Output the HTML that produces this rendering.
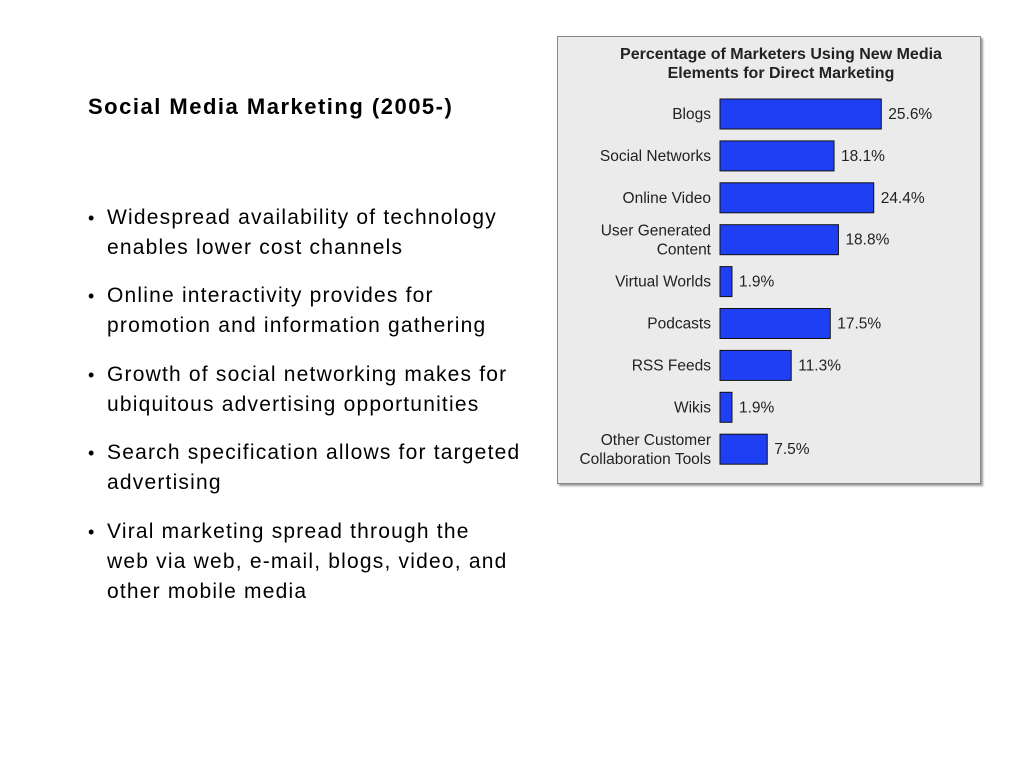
<!DOCTYPE html>
<html><head><meta charset="utf-8"><style>
body{margin:0;width:1024px;height:768px;background:#fff;position:relative;overflow:hidden;font-family:"Liberation Sans",sans-serif;}
.t{position:absolute;white-space:nowrap;color:#000;}
.title{left:88px;top:94px;font-size:22px;font-weight:bold;letter-spacing:1.5px;}
.ln{font-size:21px;left:107px;letter-spacing:1.2px;}
.bul{position:absolute;left:88px;font-size:18px;}
#panel{position:absolute;left:557px;top:36px;width:422px;height:446px;background:#ebebeb;border:1px solid #888;box-shadow:2px 2px 2px #999;}
</style></head><body>
<div class="t title">Social Media Marketing (2005-)</div>
<div>
<div class="t bul" style="top:208px">•</div>
<div class="t ln" style="top:206px">Widespread availability of technology</div>
<div class="t ln" style="top:236px">enables lower cost channels</div>
<div class="t bul" style="top:286px">•</div>
<div class="t ln" style="top:284px">Online interactivity provides for</div>
<div class="t ln" style="top:314px">promotion and information gathering</div>
<div class="t bul" style="top:365px">•</div>
<div class="t ln" style="top:363px">Growth of social networking makes for</div>
<div class="t ln" style="top:393px">ubiquitous advertising opportunities</div>
<div class="t bul" style="top:443px">•</div>
<div class="t ln" style="top:441px">Search specification allows for targeted</div>
<div class="t ln" style="top:471px">advertising</div>
<div class="t bul" style="top:522px">•</div>
<div class="t ln" style="top:520px">Viral marketing spread through the</div>
<div class="t ln" style="top:550px">web via web, e-mail, blogs, video, and</div>
<div class="t ln" style="top:580px">other mobile media</div>
</div>
<div id="panel"></div>
<svg id="chart" width="1024" height="768" style="position:absolute;left:0;top:0">
<text x="781" y="59" text-anchor="middle" font-size="16" font-weight="bold" font-family="Liberation Sans,sans-serif" fill="#222">Percentage of Marketers Using New Media</text>
<text x="781" y="78" text-anchor="middle" font-size="16" font-weight="bold" font-family="Liberation Sans,sans-serif" fill="#222">Elements for Direct Marketing</text>
</svg>
<script>
const categories=[["Blogs"],["Social Networks"],["Online Video"],["User Generated","Content"],["Virtual Worlds"],["Podcasts"],["RSS Feeds"],["Wikis"],["Other Customer","Collaboration Tools"]];
const values=[25.6,18.1,24.4,18.8,1.9,17.5,11.3,1.9,7.5];
const valueLabels=["25.6%","18.1%","24.4%","18.8%","1.9%","17.5%","11.3%","1.9%","7.5%"];
const svg=document.getElementById('chart');
const NS='http://www.w3.org/2000/svg';
const x0=720, pxPer=6.3, y0=99, pitch=41.9, bh=30;
function xs(v){return x0+v*pxPer;}
function ys(i){return y0+i*pitch;}
values.forEach((v,i)=>{
  const r=document.createElementNS(NS,'rect');
  r.setAttribute('x',x0);r.setAttribute('y',ys(i));
  r.setAttribute('width',xs(v)-x0);r.setAttribute('height',bh);
  r.setAttribute('fill','#1f3ff5');r.setAttribute('stroke','#111');r.setAttribute('stroke-width','1');
  
  
  svg.appendChild(r);
  const t=document.createElementNS(NS,'text');
  t.setAttribute('x',xs(v)+7);t.setAttribute('y',ys(i)+bh/2+5);
  t.setAttribute('font-size','15.5');t.setAttribute('font-family','Liberation Sans,sans-serif');t.setAttribute('fill','#222');
  t.textContent=valueLabels[i];
  
  
  svg.appendChild(t);
  const lines=categories[i];
  lines.forEach((s,j)=>{
    const c=document.createElementNS(NS,'text');
    c.setAttribute('x',711);c.setAttribute('text-anchor','end');
    const cy=ys(i)+bh/2+5+(lines.length===2?(j===0?-9:10):0);
    c.setAttribute('y',cy);
    c.setAttribute('font-size','15.5');c.setAttribute('font-family','Liberation Sans,sans-serif');c.setAttribute('fill','#222');
    c.textContent=s;
    
    
    svg.appendChild(c);
  });
});
</script>
</body></html>
